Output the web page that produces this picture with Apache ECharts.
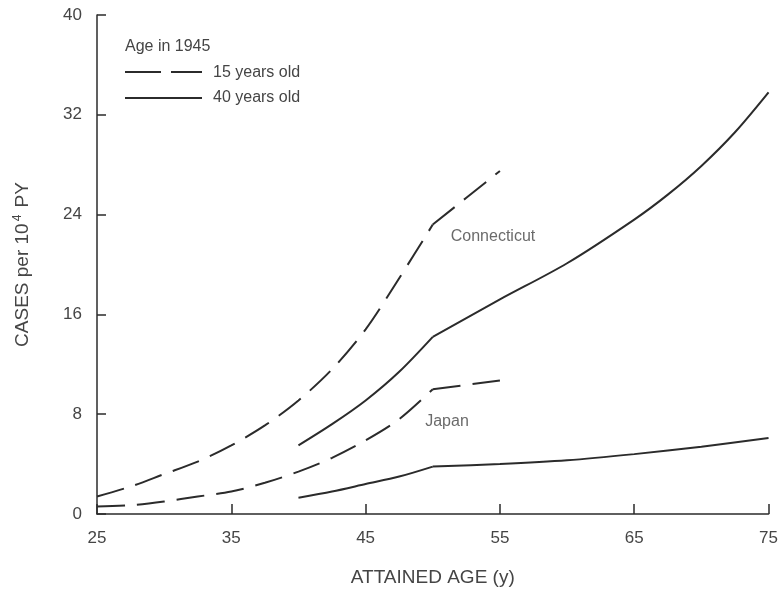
<!DOCTYPE html>
<html>
<head>
<meta charset="utf-8">
<script src="https://cdn.jsdelivr.net/npm/echarts@6/dist/echarts.min.js"></script>
<style>
  html, body { margin: 0; padding: 0; background: #fff; }
  #chart { width: 781px; height: 592px; }
</style>
</head>
<body>
<div id="chart"></div>
<script>
// Attained age (years) vs. cases per 10^4 person-years
var xTicks = [25, 35, 45, 55, 65, 75];
var yTicks = [0, 8, 16, 24, 32, 40];

// Connecticut, 15 years old in 1945
var ctAge15 = [[25, 1.4], [27.5, 2.2], [30, 3.2], [32.5, 4.2], [35, 5.5], [37.5, 7.1],
               [40, 9.1], [42.5, 11.6], [45, 14.8], [47.5, 18.9], [50, 23.2], [55, 27.5]];
// Connecticut, 40 years old in 1945
var ctAge40 = [[40, 5.5], [42.5, 7.2], [45, 9.1], [47.5, 11.4], [50, 14.2],
               [55, 17.2], [60, 20.1], [65, 23.6], [67.5, 25.6], [70, 27.9], [72.5, 30.6], [75, 33.8]];
// Japan, 15 years old in 1945
var jpAge15 = [[25, 0.6], [27.5, 0.7], [30, 1.0], [32.5, 1.4], [35, 1.8], [37.5, 2.5],
               [40, 3.4], [42.5, 4.5], [45, 5.9], [47.5, 7.6], [50, 10.0], [55, 10.7]];
// Japan, 40 years old in 1945
var jpAge40 = [[40, 1.3], [42.5, 1.8], [45, 2.4], [47.5, 3.0], [50, 3.8],
               [55, 4.0], [60, 4.3], [65, 4.8], [70, 5.4], [75, 6.1]];

// region names and where their text starts, in data coordinates
var regionLabels = [
  { name: 'Connecticut', at: [51.3, 22.2] },
  { name: 'Japan', at: [49.4, 7.4] }
];

var breakAge = 50;          // curves change slope at attained age 50
var ink = '#2b2b2b';
var textInk = '#454545';
var font = '"Liberation Sans", Arial, sans-serif';
var dashed = [28, 12];

// split a curve at the break age so the kink stays sharp
function pieces(data, lineType) {
  var before = data.filter(function (d) { return d[0] <= breakAge; });
  var after = data.filter(function (d) { return d[0] >= breakAge; });
  var base = {
    type: 'line', symbol: 'none', silent: true, smooth: 0.3,
    lineStyle: { color: ink, width: 2, type: lineType }
  };
  return [
    Object.assign({}, base, { data: before }),
    Object.assign({}, base, { data: after })
  ];
}

var series = [].concat(
  pieces(ctAge15, dashed),
  pieces(ctAge40, 'solid'),
  pieces(jpAge15, dashed),
  pieces(jpAge40, 'solid')
);

series.push({
  type: 'scatter', symbol: 'circle', symbolSize: 1, silent: true,
  itemStyle: { color: 'rgba(0,0,0,0)' },
  data: regionLabels.map(function (r) { return { value: r.at, name: r.name }; }),
  label: {
    show: true, position: 'right', distance: 0,
    formatter: '{b}', color: textInk, fontSize: 16, fontFamily: font,
    textBorderWidth: 0
  },
  z: 5
});

var chart = echarts.init(document.getElementById('chart'), null, { renderer: 'canvas' });
chart.setOption({
  animation: false,
  backgroundColor: '#fff',
  grid: { left: 97, right: 10, top: 15, bottom: 77, containLabel: false },
  xAxis: {
    type: 'value', min: xTicks[0], max: xTicks[xTicks.length - 1], interval: 10,
    name: 'ATTAINED AGE (y)', nameLocation: 'middle', nameGap: 54,
    nameTextStyle: { color: textInk, fontSize: 19, fontFamily: font },
    axisLine: { lineStyle: { color: ink, width: 1.5 } },
    axisTick: { inside: true, length: 10, lineStyle: { color: ink, width: 1.5 } },
    axisLabel: { color: textInk, fontSize: 17, fontFamily: font, margin: 16 },
    splitLine: { show: false }
  },
  yAxis: {
    type: 'value', min: yTicks[0], max: yTicks[yTicks.length - 1], interval: 8,
    name: 'CASES per 10{sup|4} PY', nameLocation: 'middle', nameGap: 64, nameRotate: 90,
    nameTextStyle: {
      color: textInk, fontSize: 19, fontFamily: font,
      rich: { sup: { fontSize: 12, color: textInk, fontFamily: font, verticalAlign: 'top', padding: [0, 2, 9, 2] } }
    },
    axisLine: { show: true, lineStyle: { color: ink, width: 1.5 } },
    axisTick: { show: true, inside: true, length: 9, lineStyle: { color: ink, width: 1.5 } },
    axisLabel: { color: textInk, fontSize: 17, fontFamily: font, margin: 15 },
    splitLine: { show: false }
  },
  graphic: [
    { type: 'text', x: 125, y: 47,
      style: { text: 'Age in 1945', fill: textInk, fontSize: 16, fontFamily: font, verticalAlign: 'middle' } },
    { type: 'line', shape: { x1: 125, y1: 72, x2: 202, y2: 72 },
      style: { stroke: ink, lineWidth: 2, lineDash: [36, 10] } },
    { type: 'text', x: 213, y: 73,
      style: { text: '15 years old', fill: textInk, fontSize: 16, fontFamily: font, verticalAlign: 'middle' } },
    { type: 'line', shape: { x1: 125, y1: 98, x2: 202, y2: 98 },
      style: { stroke: ink, lineWidth: 2 } },
    { type: 'text', x: 213, y: 98,
      style: { text: '40 years old', fill: textInk, fontSize: 16, fontFamily: font, verticalAlign: 'middle' } }
  ],
  series: series
});
</script>
</body>
</html>
